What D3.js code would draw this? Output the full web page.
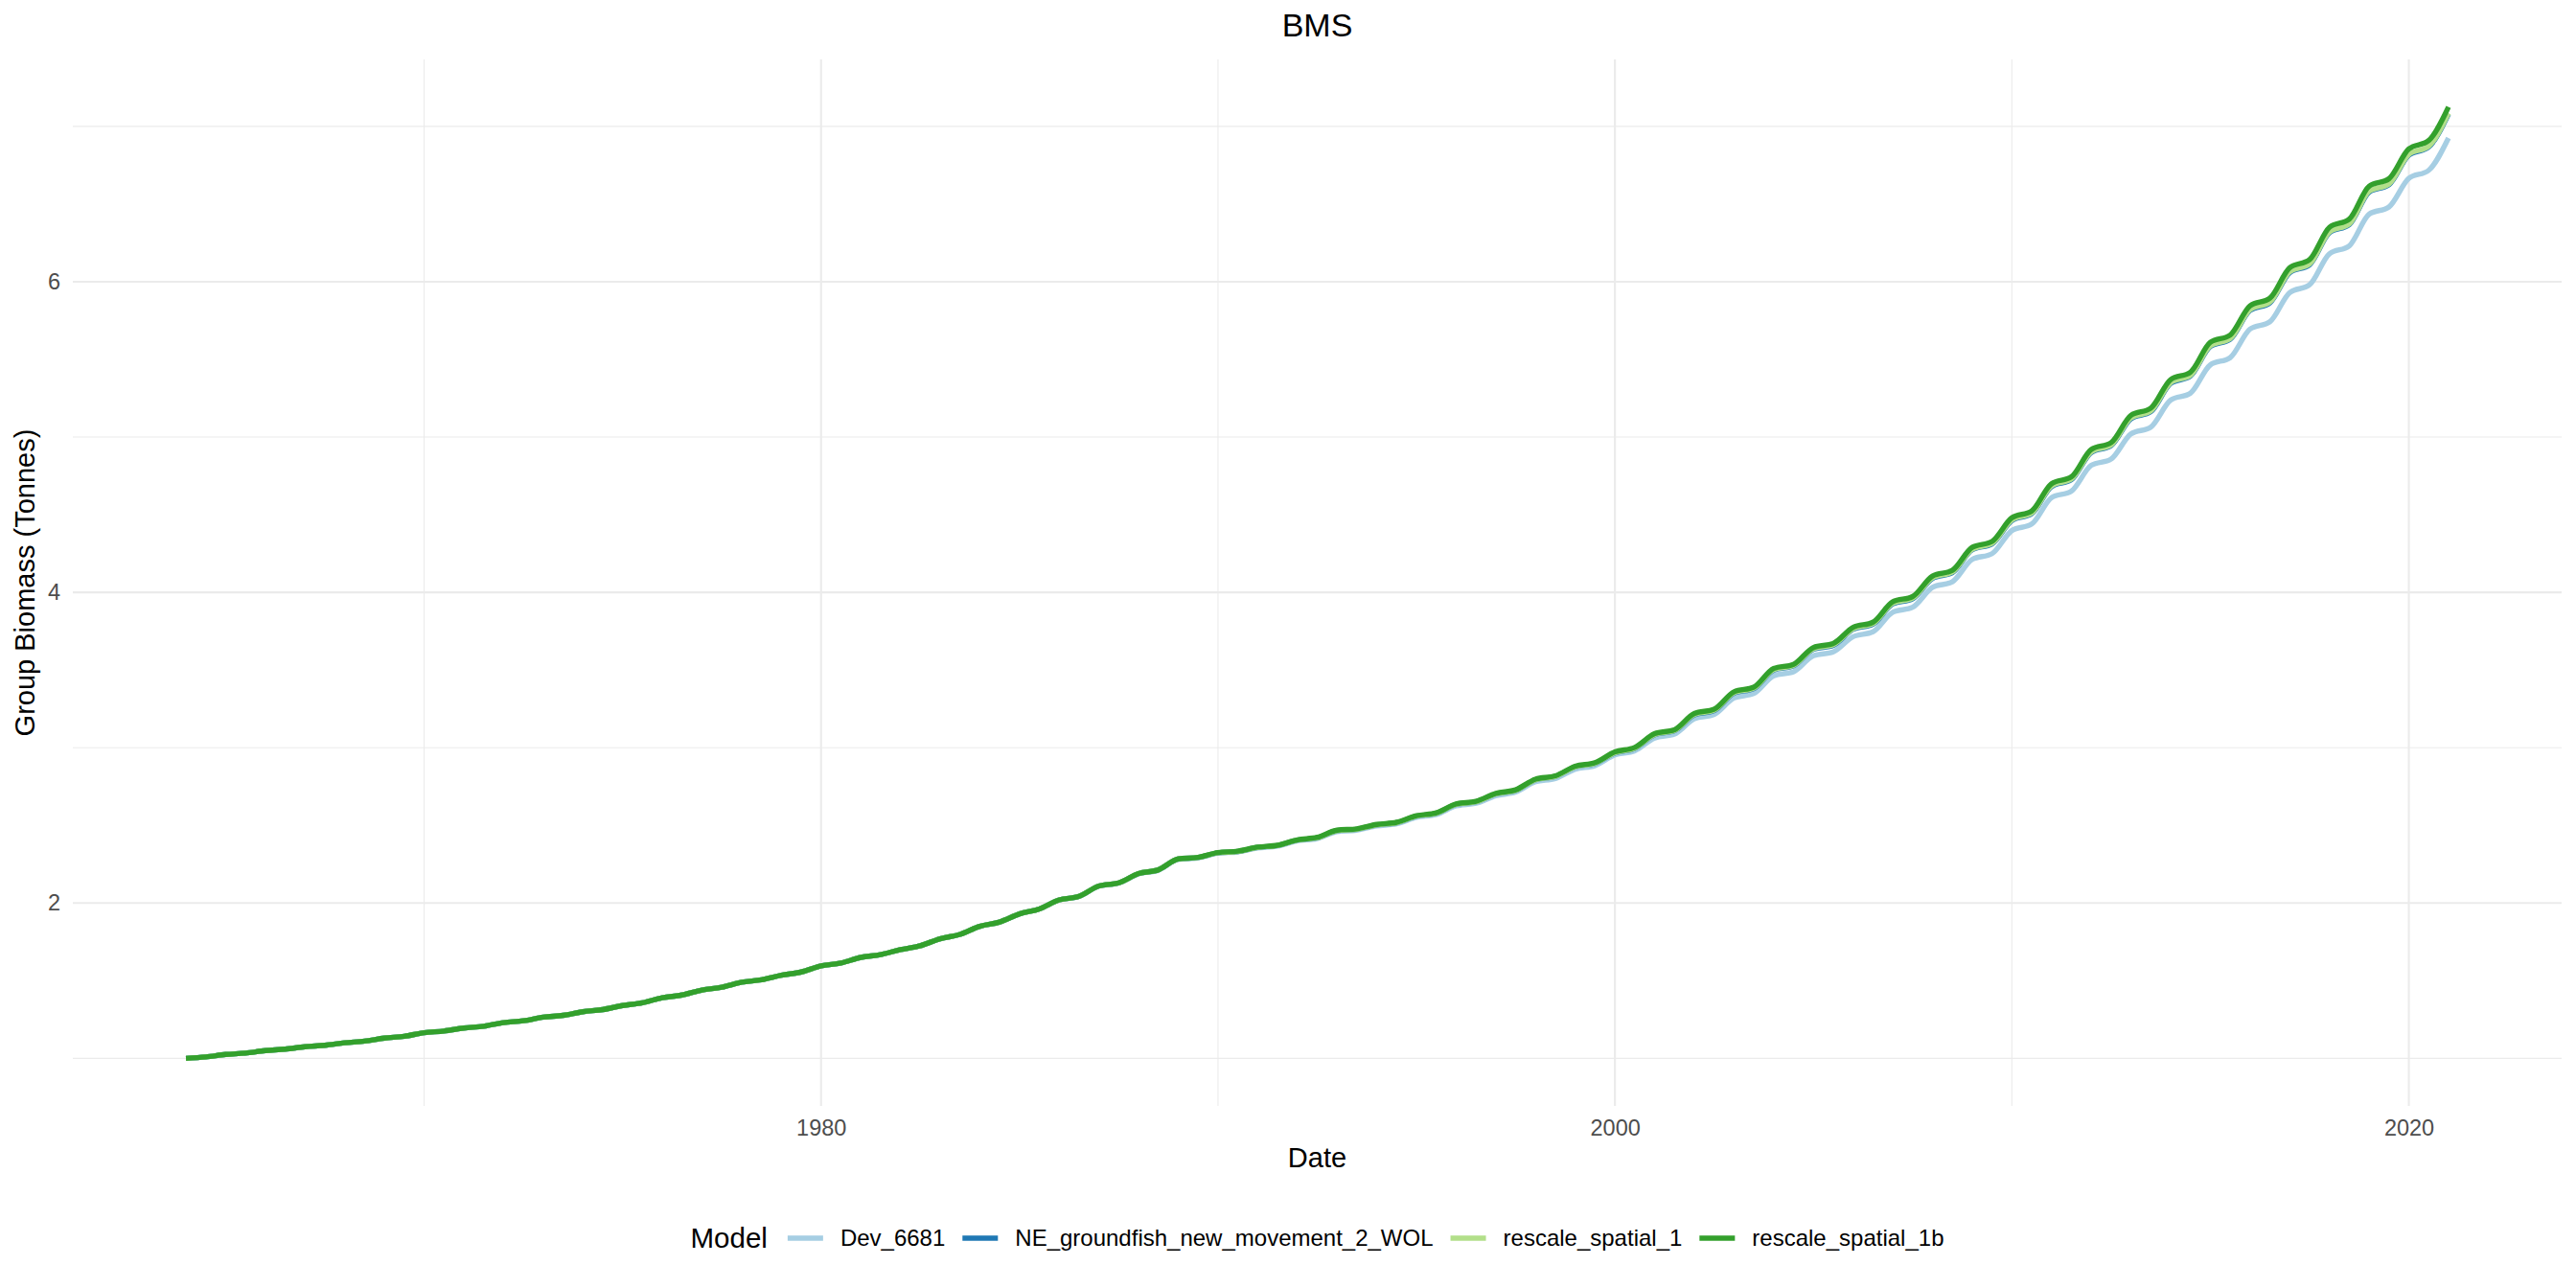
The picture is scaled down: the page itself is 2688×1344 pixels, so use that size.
<!DOCTYPE html>
<html><head><meta charset="utf-8">
<script src="https://cdn.jsdelivr.net/npm/d3@7"></script>
<style>html,body{margin:0;padding:0;background:#fff;} svg{display:block;font-family:'Liberation Sans',Arial,Helvetica,sans-serif;}</style>
</head><body><svg id="chart" width="2688" height="1344"></svg>
<script>
const chartTitle = "BMS";
const xTitle = "Date";
const yTitle = "Group Biomass (Tonnes)";
const legendTitle = "Model";
const models = ["Dev_6681", "NE_groundfish_new_movement_2_WOL", "rescale_spatial_1", "rescale_spatial_1b"];
const colors = ["#A6CEE3", "#1F78B4", "#B2DF8A", "#33A02C"];
const xMajorTicks = [1980, 2000, 2020];
const xMinorTicks = [1970, 1990, 2010];
const yMajorTicks = [2, 4, 6];
const yMinorTicks = [1, 3, 5, 7];
// half-year time stamps, 1964.0 ... 2021.0
const dates = d3.range(1964, 2021.001, 0.5);

const dev6681 = [1.000,1.009, 1.025,1.034, 1.050,1.059, 1.075,1.084, 1.100,1.111, 1.130,1.142, 1.165,1.176, 1.195,1.207, 1.230,1.242, 1.265,1.277, 1.300,1.314, 1.340,1.358, 1.390,1.408, 1.440,1.458, 1.490,1.506, 1.535,1.556, 1.595,1.614, 1.650,1.668, 1.700,1.725, 1.770,1.798, 1.850,1.878, 1.930,1.962,
 2.020,2.042, 2.108,2.128, 2.188,2.211, 2.280,2.290, 2.320,2.329, 2.354,2.366, 2.400,2.415, 2.460,2.469, 2.496,2.510, 2.551,2.570, 2.625,2.642, 2.691,2.714, 2.781,2.801, 2.862,2.885, 2.953,2.980,
 3.062,3.087, 3.187,3.214, 3.320,3.349, 3.463,3.489, 3.592,3.617, 3.715,3.746, 3.872,3.904, 4.032,4.068, 4.212,4.249, 4.398,4.440, 4.610,4.652, 4.818,4.858, 5.020,5.064, 5.238,5.283, 5.465,5.511, 5.695,5.742, 5.930,5.980, 6.180,6.231, 6.435,6.481, 6.665,6.717, 6.925];

const neGroundfish = [1.000,1.009, 1.025,1.034, 1.050,1.059, 1.075,1.084, 1.100,1.111, 1.130,1.142, 1.165,1.176, 1.195,1.207, 1.230,1.242, 1.265,1.277, 1.300,1.314, 1.340,1.358, 1.390,1.408, 1.440,1.458, 1.490,1.506, 1.535,1.556, 1.595,1.614, 1.650,1.668, 1.700,1.725, 1.770,1.798, 1.850,1.878, 1.930,1.962,
 2.020,2.043, 2.110,2.130, 2.190,2.214, 2.284,2.294, 2.323,2.332, 2.358,2.370, 2.405,2.420, 2.466,2.475, 2.503,2.517, 2.559,2.578, 2.635,2.652, 2.702,2.725, 2.794,2.815, 2.877,2.899,
 2.966,2.995, 3.083,3.109, 3.211,3.239, 3.351,3.381, 3.500,3.527, 3.633,3.659, 3.762,3.795, 3.926,3.959, 4.090,4.127, 4.274,4.312, 4.462,4.506, 4.681,4.725, 4.900,4.944, 5.118,5.163, 5.345,5.393, 5.583,5.629, 5.815,5.864, 6.058,6.109, 6.315,6.367, 6.577,6.624, 6.814,6.867, 7.079];

const rescaleSpatial1 = [1.000,1.009, 1.025,1.034, 1.050,1.059, 1.075,1.084, 1.100,1.111, 1.130,1.142, 1.165,1.176, 1.195,1.207, 1.230,1.242, 1.265,1.277, 1.300,1.314, 1.340,1.358, 1.390,1.408, 1.440,1.458, 1.490,1.506, 1.535,1.556, 1.595,1.614, 1.650,1.668, 1.700,1.725, 1.770,1.798, 1.850,1.878, 1.930,1.962,
 2.020,2.043, 2.110,2.130, 2.190,2.214, 2.284,2.294, 2.323,2.332, 2.358,2.370, 2.405,2.420, 2.466,2.475, 2.503,2.517, 2.559,2.578, 2.635,2.652, 2.702,2.725, 2.794,2.815, 2.877,2.900,
 2.968,2.997, 3.085,3.111, 3.214,3.242, 3.354,3.384, 3.503,3.530, 3.637,3.663, 3.766,3.799, 3.930,3.963, 4.094,4.131, 4.278,4.316, 4.467,4.511, 4.686,4.730, 4.905,4.949, 5.123,5.168, 5.350,5.398, 5.588,5.634, 5.820,5.869, 6.063,6.114, 6.320,6.372, 6.582,6.629, 6.819,6.872, 7.085];

const rescaleSpatial1b = [1.000,1.009, 1.025,1.034, 1.050,1.059, 1.075,1.084, 1.100,1.111, 1.130,1.142, 1.165,1.176, 1.195,1.207, 1.230,1.242, 1.265,1.277, 1.300,1.314, 1.340,1.358, 1.390,1.408, 1.440,1.458, 1.490,1.506, 1.535,1.556, 1.595,1.614, 1.650,1.668, 1.700,1.725, 1.770,1.798, 1.850,1.878, 1.930,1.962,
 2.020,2.043, 2.110,2.130, 2.190,2.214, 2.284,2.294, 2.325,2.334, 2.360,2.372, 2.407,2.423, 2.469,2.478, 2.506,2.520, 2.562,2.581, 2.638,2.655, 2.706,2.729, 2.798,2.819, 2.881,2.904,
 2.973,3.002, 3.090,3.116, 3.220,3.248, 3.360,3.390, 3.510,3.537, 3.645,3.671, 3.775,3.808, 3.940,3.973, 4.105,4.142, 4.290,4.328, 4.480,4.524, 4.700,4.744, 4.920,4.964, 5.140,5.186, 5.370,5.418, 5.610,5.657, 5.845,5.894, 6.090,6.142, 6.350,6.403, 6.615,6.663, 6.855,6.909, 7.125];

const seriesValues = [dev6681, neGroundfish, rescaleSpatial1, rescaleSpatial1b];

const W = 2688, H = 1344;
const panel = {left: 76, right: 2673, top: 62, bottom: 1154};
const svg = d3.select("#chart");
svg.append("rect").attr("width", W).attr("height", H).attr("fill", "#fff");

const series = models.map((m, i) => ({
  name: m, color: colors[i],
  points: dates.map((d, j) => ({t: d, v: seriesValues[i][j]})).filter(p => p.v !== undefined)
}));

const allT = dates, allV = seriesValues.flat();
const tExt = d3.extent(allT), vExt = d3.extent(allV);
const tPad = (tExt[1] - tExt[0]) * 0.05, vPad = (vExt[1] - vExt[0]) * 0.05;
const x = d3.scaleLinear().domain([tExt[0] - tPad, tExt[1] + tPad]).range([panel.left, panel.right]);
const y = d3.scaleLinear().domain([vExt[0] - vPad, vExt[1] + vPad]).range([panel.bottom, panel.top]);

const grid = svg.append("g");
grid.selectAll(".xmin").data(xMinorTicks).join("line")
  .attr("x1", d => x(d)).attr("x2", d => x(d)).attr("y1", panel.top).attr("y2", panel.bottom)
  .attr("stroke", "#EBEBEB").attr("stroke-width", 1.1);
grid.selectAll(".ymin").data(yMinorTicks).join("line")
  .attr("y1", d => y(d)).attr("y2", d => y(d)).attr("x1", panel.left).attr("x2", panel.right)
  .attr("stroke", "#EBEBEB").attr("stroke-width", 1.1);
grid.selectAll(".xmaj").data(xMajorTicks).join("line")
  .attr("x1", d => x(d)).attr("x2", d => x(d)).attr("y1", panel.top).attr("y2", panel.bottom)
  .attr("stroke", "#EBEBEB").attr("stroke-width", 2.1);
grid.selectAll(".ymaj").data(yMajorTicks).join("line")
  .attr("y1", d => y(d)).attr("y2", d => y(d)).attr("x1", panel.left).attr("x2", panel.right)
  .attr("stroke", "#EBEBEB").attr("stroke-width", 2.1);

const line = d3.line().x(d => x(d.t)).y(d => y(d.v)).curve(d3.curveMonotoneX);
svg.append("g").selectAll("path").data(series).join("path")
  .attr("d", d => line(d.points))
  .attr("fill", "none").attr("stroke", d => d.color)
  .attr("stroke-width", 5.4).attr("stroke-linejoin", "round");

const xAxis = svg.append("g").attr("transform", `translate(0,${panel.bottom})`)
  .call(d3.axisBottom(x).tickValues(xMajorTicks).tickFormat(d3.format("d")).tickSize(0).tickPadding(14));
const yAxis = svg.append("g").attr("transform", `translate(${panel.left},0)`)
  .call(d3.axisLeft(y).tickValues(yMajorTicks).tickFormat(d3.format("d")).tickSize(0).tickPadding(13));
[xAxis, yAxis].forEach(a => {
  a.select(".domain").remove();
  a.selectAll("text").attr("font-size", 23.5).attr("fill", "#4D4D4D")
    .attr("font-family", "'Liberation Sans',Arial,Helvetica,sans-serif");
});

const cx = (panel.left + panel.right) / 2;
svg.append("text").attr("x", cx).attr("y", 38).attr("text-anchor", "middle")
  .attr("font-size", 34).attr("fill", "#000").text(chartTitle);
svg.append("text").attr("x", cx).attr("y", 1218).attr("text-anchor", "middle")
  .attr("font-size", 29).attr("fill", "#000").text(xTitle);
svg.append("text").attr("transform", `translate(36,${(panel.top + panel.bottom) / 2}) rotate(-90)`)
  .attr("text-anchor", "middle").attr("font-size", 29).attr("fill", "#000").text(yTitle);

// legend
const lg = svg.append("g");
const ly = 1292;
let cur = 0;
const lt = lg.append("text").attr("x", cur).attr("y", ly).attr("dy", "0.35em")
  .attr("font-size", 29.5).attr("fill", "#000").text(legendTitle);
cur += lt.node().getComputedTextLength() + 21;
models.forEach((m, i) => {
  lg.append("line").attr("x1", cur).attr("x2", cur + 37).attr("y1", ly).attr("y2", ly)
    .attr("stroke", colors[i]).attr("stroke-width", 5.4);
  cur += 37 + 18;
  const t = lg.append("text").attr("x", cur).attr("y", ly).attr("dy", "0.35em")
    .attr("font-size", 24).attr("fill", "#000").text(m);
  cur += t.node().getComputedTextLength();
  if (i < models.length - 1) cur += 18;
});
lg.attr("transform", `translate(${cx - cur / 2},0)`);
</script></body></html>
